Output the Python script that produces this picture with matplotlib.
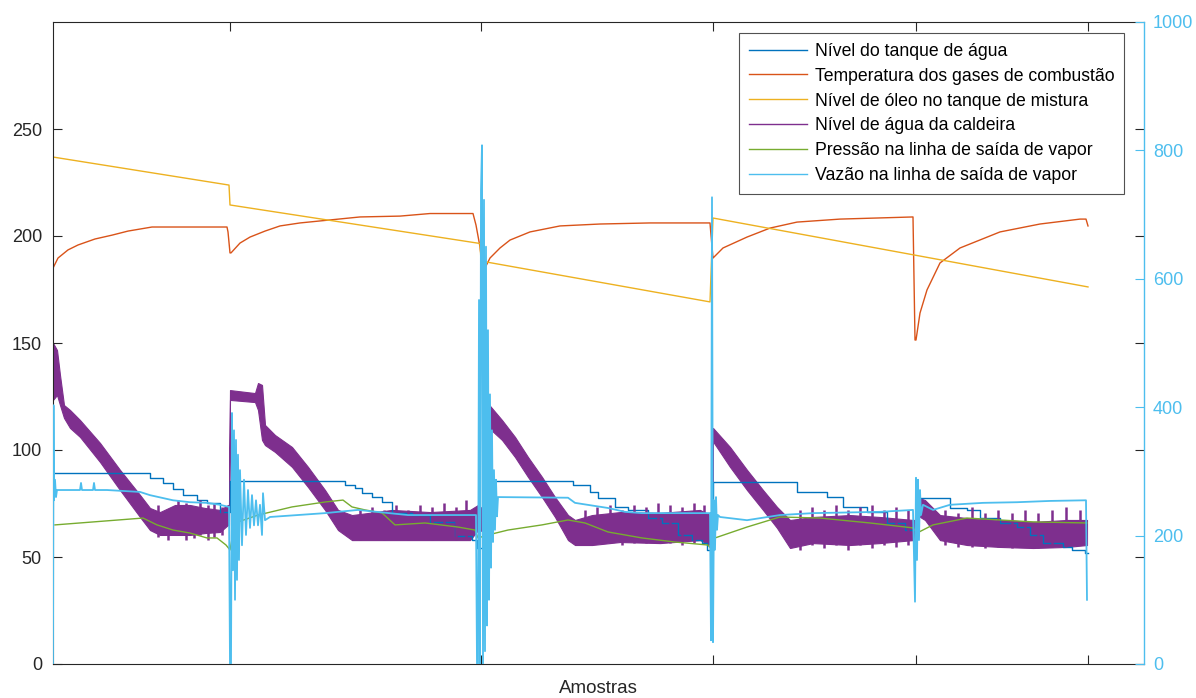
import matplotlib
matplotlib.use("Agg")
import matplotlib.pyplot as plt
from matplotlib.lines import Line2D

plt.rcParams['font.family'] = ['Liberation Sans', 'DejaVu Sans']

# ---------------- data (x = sample index) ----------------
boundaries = [177, 428, 660, 863, 1035]

# Nível do tanque de água (step signal)
tank_x = [0, 97, 110, 120, 130, 144, 154, 167, 177, 292, 302, 309, 319, 329, 339, 359, 377, 402, 419, 424,
          430, 520, 537, 545, 562, 575, 595, 609, 625, 639, 649, 654,
          660, 744, 774, 790, 814, 834, 852,
          863, 897, 914, 927, 947, 964, 977, 990, 1010, 1019, 1032, 1035]
tank_v = [89.3, 86.9, 84.6, 81.8, 79.0, 76.6, 75.2, 71.0, 85.5, 83.6, 82.2, 79.9, 78.0, 75.7, 70.6, 69.6, 66.4, 59.8, 57.9, 54.2,
          85.5, 83.6, 80.4, 77.6, 73.4, 72.0, 68.2, 65.9, 60.3, 57.9, 56.5, 53.3,
          85.0, 80.4, 78.0, 73.4, 71.0, 65.9, 62.6,
          77.6, 72.9, 72.0, 68.2, 65.9, 64.0, 60.3, 56.5, 54.7, 53.3, 51.9, 51.9]

# Temperatura dos gases de combustão
temp_x = [0, 5, 15, 25, 42, 59, 75, 99, 174, 175, 177,
          178, 187, 197, 212, 227, 247, 277, 307, 347, 377, 420, 423, 427,
          430, 437, 447, 457, 477, 507, 547, 597, 657, 658,
          660, 670, 694, 717, 744, 787, 860, 862,
          863, 867, 874, 887, 907, 947, 987, 1027, 1033, 1035]
temp_v = [185.0, 189.7, 193.5, 195.8, 198.6, 200.4, 202.3, 204.2, 204.2, 201.9, 192.1,
          192.1, 196.7, 199.5, 202.3, 204.7, 206.1, 207.5, 208.9, 209.3, 210.5, 210.5, 205.1, 194.9,
          183.2, 189.7, 194.4, 198.1, 201.9, 204.7, 205.6, 206.1, 206.1, 200.4,
          189.7, 194.4, 199.5, 203.7, 206.5, 207.9, 208.9, 151.4,
          151.4, 164.0, 174.8, 187.4, 194.4, 201.9, 205.6, 207.9, 207.9, 204.7]

# Nível de óleo no tanque de mistura
oil_x = [0, 176, 177, 427, 428, 657, 660, 1035]
oil_v = [236.9, 223.8, 214.5, 196.5, 188.3, 169.2, 208.4, 176.2]

# Nível de água da caldeira (noisy band: upper / lower envelope)
boil_x = [0, 4, 7, 11, 17, 27, 47, 67, 87, 97, 107, 122, 137, 152, 167, 175, 176,
          177, 202, 205, 209, 212, 222, 239, 255, 272, 285, 299, 339, 377, 417, 425, 431,
          432, 449, 462, 475, 489, 502, 515, 522, 539, 567, 607, 647, 657, 659,
          660, 677, 694, 710, 724, 737, 760, 797, 827, 860, 862,
          864, 872, 887, 914, 947, 980, 1014, 1034]
boil_hi = [150.0, 146.7, 135.0, 121.0, 118.7, 114.0, 103.3, 90.7, 79.0, 72.9, 71.0, 74.3, 74.3, 72.9, 72.0, 74.3, 74.3,
           128.0, 126.6, 131.3, 130.4, 111.7, 107.0, 101.4, 92.1, 81.3, 72.0, 69.6, 72.0, 71.0, 72.0, 74.3, 72.0,
           123.4, 114.0, 106.1, 96.7, 87.4, 78.0, 69.6, 67.3, 69.6, 71.0, 70.6, 72.0, 69.6, 69.6,
           110.3, 101.4, 90.7, 81.3, 73.4, 67.3, 68.7, 69.6, 68.7, 67.3, 67.3,
           78.0, 76.6, 69.6, 68.2, 67.3, 66.4, 67.3, 67.3]
boil_lo = [123.4, 125.7, 121.0, 115.0, 110.3, 106.1, 94.4, 81.3, 68.7, 62.6, 60.3, 60.3, 60.3, 61.2, 61.7, 65.0, 65.0,
           123.4, 122.4, 118.7, 104.7, 102.3, 99.1, 92.1, 82.7, 72.0, 62.6, 57.9, 57.9, 57.9, 57.9, 62.6, 62.0,
           112.0, 104.7, 96.7, 87.4, 78.0, 68.7, 57.9, 55.6, 55.6, 57.0, 56.5, 57.9, 55.6, 55.6,
           104.0, 92.1, 81.3, 72.0, 63.6, 54.2, 56.5, 55.6, 56.5, 57.9, 57.9,
           69.6, 67.3, 57.9, 55.6, 54.7, 54.2, 54.7, 55.6]
# noise peaks of the boiler level
spike_x = [105, 115, 125, 133, 141, 147, 155, 161, 169,
           307, 319, 331, 343, 355, 367, 379, 391, 403, 413,
           532, 544, 557, 569, 581, 593, 605, 617, 629, 641, 651,
           747, 759, 771, 783, 795, 807, 819, 831, 843, 855,
           892, 905, 919, 932, 945, 959, 972, 985, 999, 1013, 1027]
spike_top = [74.3, 72.0, 76.6, 75.2, 73.4, 76.6, 74.3, 75.2, 73.4,
             72.0, 73.4, 72.0, 74.3, 72.0, 74.3, 73.4, 75.2, 73.4, 76.6,
             72.0, 73.4, 74.3, 72.0, 74.3, 73.4, 75.2, 74.3, 73.4, 75.2, 74.3,
             72.0, 73.4, 72.0, 74.3, 72.0, 73.4, 74.3, 72.0, 73.4, 72.0,
             72.0, 70.6, 73.4, 70.6, 72.0, 70.6, 72.0, 70.6, 72.0, 73.4, 72.0]
spike_bot = [59.3, 57.9, 60.3, 57.9, 58.9, 60.3, 57.9, 59.3, 60.3,
             57.9, 58.9, 57.9, 59.3, 57.9, 58.9, 57.9, 59.3, 57.9, 58.9,
             55.6, 56.5, 56.5, 55.6, 56.5, 56.5, 57.9, 56.5, 55.6, 56.5, 57.9,
             53.3, 55.6, 54.2, 55.6, 53.3, 55.6, 54.2, 55.6, 54.7, 55.6,
             55.6, 54.7, 54.7, 54.2, 54.7, 54.2, 54.7, 54.2, 54.7, 54.7, 55.6]

# Pressão na linha de saída de vapor
press_x = [2, 90, 104, 120, 137, 154, 164, 173, 177,
           182, 205, 239, 272, 290, 299, 312, 329, 342, 372, 405, 422, 425,
           435, 455, 489, 515, 532, 555, 589, 622, 655, 659,
           662, 694, 727, 767, 817, 860,
           864, 880, 914, 947, 980, 1034]
press_v = [65.0, 68.2, 65.0, 62.6, 61.2, 58.9, 58.9, 55.6, 53.3,
           65.9, 69.6, 73.4, 75.7, 76.6, 73.4, 72.0, 70.6, 65.0, 65.9, 64.0, 62.6, 58.9,
           60.3, 62.6, 65.0, 67.3, 65.9, 61.7, 58.9, 57.0, 55.6, 53.3,
           58.9, 64.0, 68.7, 68.2, 65.9, 63.6,
           61.2, 65.0, 68.2, 67.3, 66.4, 65.9]

# Vazão na linha de saída de vapor (right axis)
flow_x = [0, 0.5, 1, 2, 3, 4, 27, 28, 29, 40, 41, 42, 54, 87, 97, 120, 137, 154, 167, 175,
          176, 177, 178, 179, 180, 181, 182, 183, 184, 185, 186, 187, 189, 191, 193, 195, 197, 199, 201, 203, 205, 207, 209, 210, 212, 217,
          272, 305, 355, 419, 423,
          424, 425, 426, 427, 428, 429, 430, 431, 432, 433, 434, 435, 436, 437, 438, 439, 440, 441, 442, 443, 444, 445,
          515, 522, 555, 572, 589, 656,
          657, 658, 659, 660, 661, 662, 663, 664, 665, 667,
          694, 727, 760, 827, 860,
          862, 863, 864, 865, 866, 867, 868, 870,
          880, 897, 930, 964, 997, 1033, 1034]
flow_v = [0, 403, 255, 287, 260, 271, 271, 282, 271, 271, 282, 271, 271, 268, 263, 255, 252, 251, 248, 245,
          245, 0, 0, 391, 146, 364, 100, 349, 131, 326, 162, 302, 185, 287, 201, 271, 212, 263, 216, 255, 216, 248, 201, 266, 224, 229,
          235, 240, 232, 232, 232,
          0, 0, 567, 0, 738, 808, 0, 723, 20, 650, 60, 520, 100, 420, 150, 364, 190, 302, 209, 287, 230, 260,
          259, 251, 243, 237, 235, 235,
          235, 37, 727, 34, 255, 178, 260, 209, 232, 229,
          224, 232, 235, 237, 240,
          97, 290, 162, 287, 193, 271, 232, 248,
          240, 248, 251, 252, 254, 255, 100]

labels = ['Nível do tanque de água', 'Temperatura dos gases de combustão',
          'Nível de óleo no tanque de mistura', 'Nível de água da caldeira',
          'Pressão na linha de saída de vapor', 'Vazão na linha de saída de vapor']
colors = ['#0072BD', '#D95319', '#EDB120', '#7E2F8E', '#77AC30', '#4DBEEE']

# ---------------- figure ----------------
fig = plt.figure(figsize=(11.96, 6.98), dpi=100)
ax = fig.add_axes([53 / 1196, 34 / 698, 1091 / 1196, 642 / 698])
ax2 = ax.twinx()

lw = 1.0
ax.plot(tank_x, tank_v, color=colors[0], lw=lw, drawstyle='steps-post')
ax.plot(temp_x, temp_v, color=colors[1], lw=lw)
ax.plot(oil_x, oil_v, color=colors[2], lw=lw)
ax.fill_between(boil_x, boil_lo, boil_hi, color=colors[3], lw=0.8, edgecolor=colors[3])
ax.vlines(spike_x, spike_bot, spike_top, color=colors[3], lw=1.8)
ax.plot(press_x, press_v, color=colors[4], lw=lw)
ax2.plot(flow_x, flow_v, color=colors[5], lw=1.3)

ax.set_xlim(0, 1091)
ax.set_ylim(0, 300)
ax2.set_ylim(0, 1000)
ax.set_xticks(boundaries)
ax.set_xticklabels([''] * len(boundaries))
ax.set_yticks([0, 50, 100, 150, 200, 250])
ax2.set_yticks([0, 200, 400, 600, 800, 1000])

dark = '#262626'
ax.tick_params(axis='both', direction='in', length=6.5, width=0.8, color=dark,
               labelcolor=dark, labelsize=13, top=True, right=True, pad=8)
ax2.tick_params(axis='y', direction='in', length=6.5, width=0.8, color=colors[5],
                labelcolor=colors[5], labelsize=13, pad=6.5)
for s in ['left', 'top', 'bottom']:
    ax.spines[s].set_color(dark)
    ax.spines[s].set_linewidth(0.8)
    ax2.spines[s].set_visible(False)
ax.spines['right'].set_visible(False)
ax2.spines['right'].set_color(colors[5])
ax2.spines['right'].set_linewidth(1.0)

ax.set_xlabel('Amostras', fontsize=13.5, color=dark, labelpad=3.5)

handles = [Line2D([], [], color=c, lw=1.0) for c in colors]
leg = ax2.legend(handles, labels, loc='upper right', bbox_to_anchor=(0.9817, 0.9829),
                 borderaxespad=0, fontsize=12.7, frameon=True, fancybox=False,
                 edgecolor=dark, handlelength=3.3, handletextpad=0.45,
                 labelspacing=0.45, borderpad=0.55)
leg.get_frame().set_linewidth(0.8)

fig.savefig('out.png', dpi=100)
